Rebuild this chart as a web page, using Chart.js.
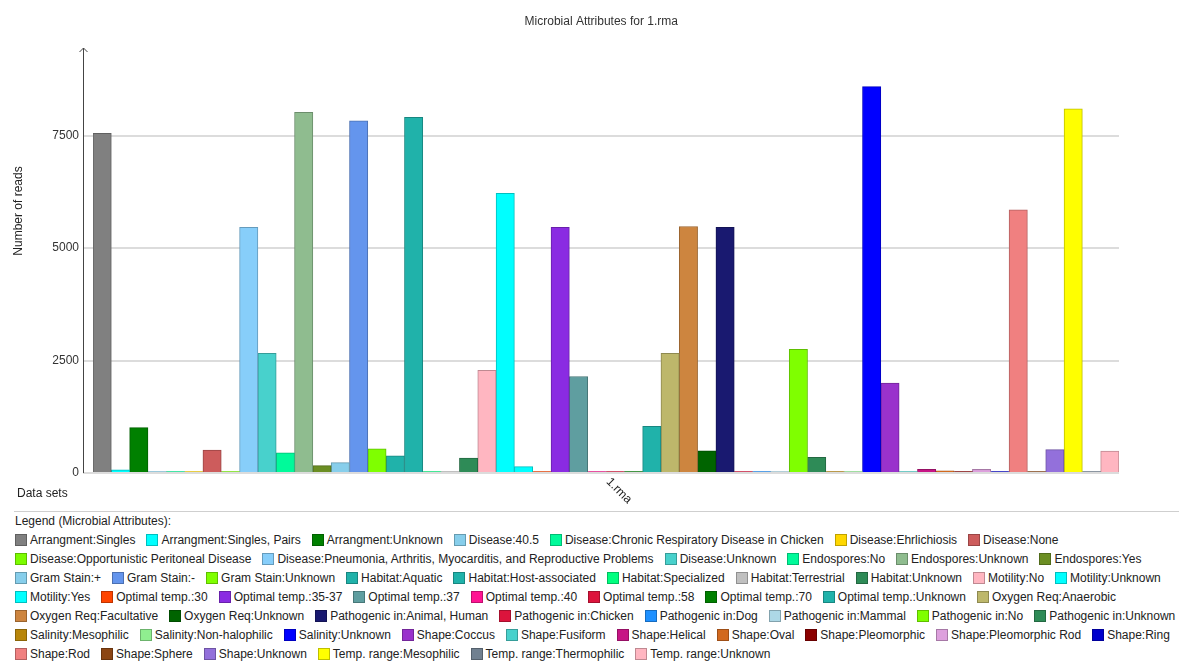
<!DOCTYPE html>
<html>
<head>
<meta charset="utf-8">
<title>Microbial Attributes for 1.rma</title>
<script src="https://cdn.jsdelivr.net/npm/chart.js@4.4.1/dist/chart.umd.min.js"></script>
<style>
  body { margin: 0; background: #fff; font-family: "Liberation Sans", Arial, sans-serif; }
  #wrap { position: relative; width: 1179px; height: 505px; }
  #legendBox {
    position: absolute; top: 511px; left: 14px; right: 0;
    border-top: 1px solid #cfcfcf;
    font-size: 12px; color: #222;
  }
  #legendBox .legend-title { height: 18px; line-height: 18px; padding-left: 1px; }
  #legend { display: flex; flex-wrap: wrap; column-gap: 11px; padding-left: 1px; }
  .item { display: inline-flex; align-items: center; height: 19px; white-space: nowrap; }
  .swatch { width: 10px; height: 10px; border: 1px solid; margin-right: 3px; }
</style>
</head>
<body>
<div id="wrap"><canvas id="chart"></canvas></div>
<div id="legendBox">
  <div class="legend-title">Legend (Microbial Attributes):</div>
  <div id="legend"></div>
</div>
<script>
// data sets (one group on the x axis)
const categories = ['1.rma'];

// attribute names, in legend order
const attributeNames = [
  'Arrangment:Singles', 'Arrangment:Singles, Pairs', 'Arrangment:Unknown',
  'Disease:40.5', 'Disease:Chronic Respiratory Disease in Chicken', 'Disease:Ehrlichiosis', 'Disease:None',
  'Disease:Opportunistic Peritoneal Disease', 'Disease:Pneumonia, Arthritis, Myocarditis, and Reproductive Problems',
  'Disease:Unknown', 'Endospores:No', 'Endospores:Unknown', 'Endospores:Yes',
  'Gram Stain:+', 'Gram Stain:-', 'Gram Stain:Unknown',
  'Habitat:Aquatic', 'Habitat:Host-associated', 'Habitat:Specialized', 'Habitat:Terrestrial', 'Habitat:Unknown',
  'Motility:No', 'Motility:Unknown', 'Motility:Yes',
  'Optimal temp.:30', 'Optimal temp.:35-37', 'Optimal temp.:37', 'Optimal temp.:40', 'Optimal temp.:58',
  'Optimal temp.:70', 'Optimal temp.:Unknown',
  'Oxygen Req:Anaerobic', 'Oxygen Req:Facultative', 'Oxygen Req:Unknown',
  'Pathogenic in:Animal, Human', 'Pathogenic in:Chicken', 'Pathogenic in:Dog', 'Pathogenic in:Mammal',
  'Pathogenic in:No', 'Pathogenic in:Unknown',
  'Salinity:Mesophilic', 'Salinity:Non-halophilic', 'Salinity:Unknown',
  'Shape:Coccus', 'Shape:Fusiform', 'Shape:Helical', 'Shape:Oval', 'Shape:Pleomorphic', 'Shape:Pleomorphic Rod',
  'Shape:Ring', 'Shape:Rod', 'Shape:Sphere', 'Shape:Unknown',
  'Temp. range:Mesophilic', 'Temp. range:Thermophilic', 'Temp. range:Unknown'
];

// number of reads per attribute
const readCounts = [
  7550, 70, 1010,
  30, 30, 30, 510,
  30, 5460,
  2660, 450, 8020, 165,
  230, 7830, 535,
  380, 7910, 30, 30, 330,
  2280, 6220, 140,
  30, 5460, 2145, 30, 30,
  30, 1040,
  2660, 5480, 495,
  5460, 30, 30, 30,
  2750, 350,
  30, 30, 8590,
  2000, 30, 80, 50, 30, 80,
  30, 5850, 30, 520,
  8095, 30, 490
];

const barColors = [
  '#808080', '#00FFFF', '#008000',
  '#87CEEB', '#00FA9A', '#FFD700', '#CD5C5C',
  '#7CFC00', '#87CEFA',
  '#48D1CC', '#00FA9A', '#8FBC8F', '#6B8E23',
  '#87CEEB', '#6495ED', '#7FFF00',
  '#20B2AA', '#20B2AA', '#00FF7F', '#C0C0C0', '#2E8B57',
  '#FFB6C1', '#00FFFF', '#00FFFF',
  '#FF4500', '#8A2BE2', '#5F9EA0', '#FF1493', '#DC143C',
  '#008000', '#20B2AA',
  '#BDB76B', '#CD853F', '#006400',
  '#191970', '#DC143C', '#1E90FF', '#ADD8E6',
  '#7FFF00', '#2E8B57',
  '#B8860B', '#90EE90', '#0000FF',
  '#9932CC', '#48D1CC', '#C71585', '#D2691E', '#8B0000', '#DDA0DD',
  '#0000CD', '#F08080', '#8B4513', '#9370DB',
  '#FFFF00', '#708090', '#FFB6C1'
];

// y axis ticks
const tickValues = [0, 2500, 5000, 7500];

const chartTitle = 'Microbial Attributes for 1.rma';

// darker edge for each bar
function darker(hex, f) {
  const n = parseInt(hex.slice(1), 16);
  const r = Math.round(((n >> 16) & 255) * f);
  const g = Math.round(((n >> 8) & 255) * f);
  const b = Math.round((n & 255) * f);
  return `rgb(${r}, ${g}, ${b})`;
}

Chart.defaults.font.family = '"Liberation Sans", Arial, sans-serif';
Chart.defaults.font.size = 12;
Chart.defaults.color = '#333';

const datasets = attributeNames.map((name, i) => ({
  label: name,
  data: [readCounts[i]],
  backgroundColor: barColors[i],
  borderColor: darker(barColors[i], 0.75),
  borderWidth: 1,
  categoryPercentage: 1.0,
  barPercentage: 1.0
}));

const yMax = Math.max(...readCounts) * 1.1;

// title, axis line with arrow, axis captions and the data set label
const axisDecor = {
  id: 'axisDecor',
  afterDraw(chart) {
    const { ctx, chartArea, scales } = chart;
    const axisX = Math.round(chartArea.left - 10) + 0.5;
    const y0 = scales.y.getPixelForValue(0);
    const yTop = scales.y.getPixelForValue(yMax);
    ctx.save();
    ctx.strokeStyle = '#444';
    ctx.lineWidth = 1;
    ctx.beginPath();
    ctx.moveTo(axisX, y0);
    ctx.lineTo(axisX, yTop);
    ctx.moveTo(axisX - 4, yTop + 4);
    ctx.lineTo(axisX, yTop);
    ctx.lineTo(axisX + 4, yTop + 4);
    ctx.stroke();

    ctx.fillStyle = '#222';
    ctx.font = '12px "Liberation Sans", Arial, sans-serif';

    // chart title, centred over the plot
    ctx.textAlign = 'center';
    ctx.textBaseline = 'middle';
    ctx.fillStyle = '#333';
    ctx.fillText(chartTitle, (axisX + chartArea.right) / 2, 22);
    ctx.fillStyle = '#222';

    // y axis caption
    ctx.save();
    ctx.translate(19, 211);
    ctx.rotate(-Math.PI / 2);
    ctx.textAlign = 'center';
    ctx.textBaseline = 'middle';
    ctx.fillText('Number of reads', 0, 0);
    ctx.restore();

    // x axis caption
    ctx.textAlign = 'left';
    ctx.textBaseline = 'middle';
    ctx.fillText('Data sets', 17, y0 + 21);

    // data set name under its group, slanted
    const xc = scales.x.getPixelForValue(0);
    ctx.save();
    ctx.translate(xc + 2, y0 + 7);
    ctx.rotate(Math.PI / 4);
    ctx.textAlign = 'left';
    ctx.textBaseline = 'middle';
    ctx.fillText(categories[0], 0, 0);
    ctx.restore();
    ctx.restore();
  }
};

const chart = new Chart(document.getElementById('chart').getContext('2d'), {
  type: 'bar',
  data: { labels: categories, datasets: datasets },
  options: {
    responsive: true,
    maintainAspectRatio: false,
    animation: false,
    layout: { padding: { left: 30, right: 60, top: 48, bottom: 32 } },
    plugins: {
      legend: { display: false },
      tooltip: { enabled: false },
      title: { display: false }
    },
    scales: {
      x: { display: false },
      y: {
        min: 0,
        max: yMax,
        afterFit: (scale) => { scale.width = 63; },
        afterBuildTicks: (scale) => { scale.ticks = tickValues.map(v => ({ value: v })); },
        border: { display: false },
        grid: { color: '#dcdcdc', lineWidth: 2, drawTicks: true, tickLength: 10 },
        ticks: { padding: 4, color: '#333', font: { size: 12 }, callback: (v) => String(v) }
      }
    }
  },
  plugins: [axisDecor]
});

// legend as html, built from the chart's data sets
function buildLegend(chart) {
  const box = document.getElementById('legend');
  box.innerHTML = '';
  chart.data.datasets.forEach(ds => {
    const item = document.createElement('span');
    item.className = 'item';
    const sw = document.createElement('span');
    sw.className = 'swatch';
    sw.style.background = ds.backgroundColor;
    sw.style.borderColor = ds.borderColor;
    item.appendChild(sw);
    item.appendChild(document.createTextNode(ds.label));
    box.appendChild(item);
  });
}
buildLegend(chart);
</script>
</body>
</html>
